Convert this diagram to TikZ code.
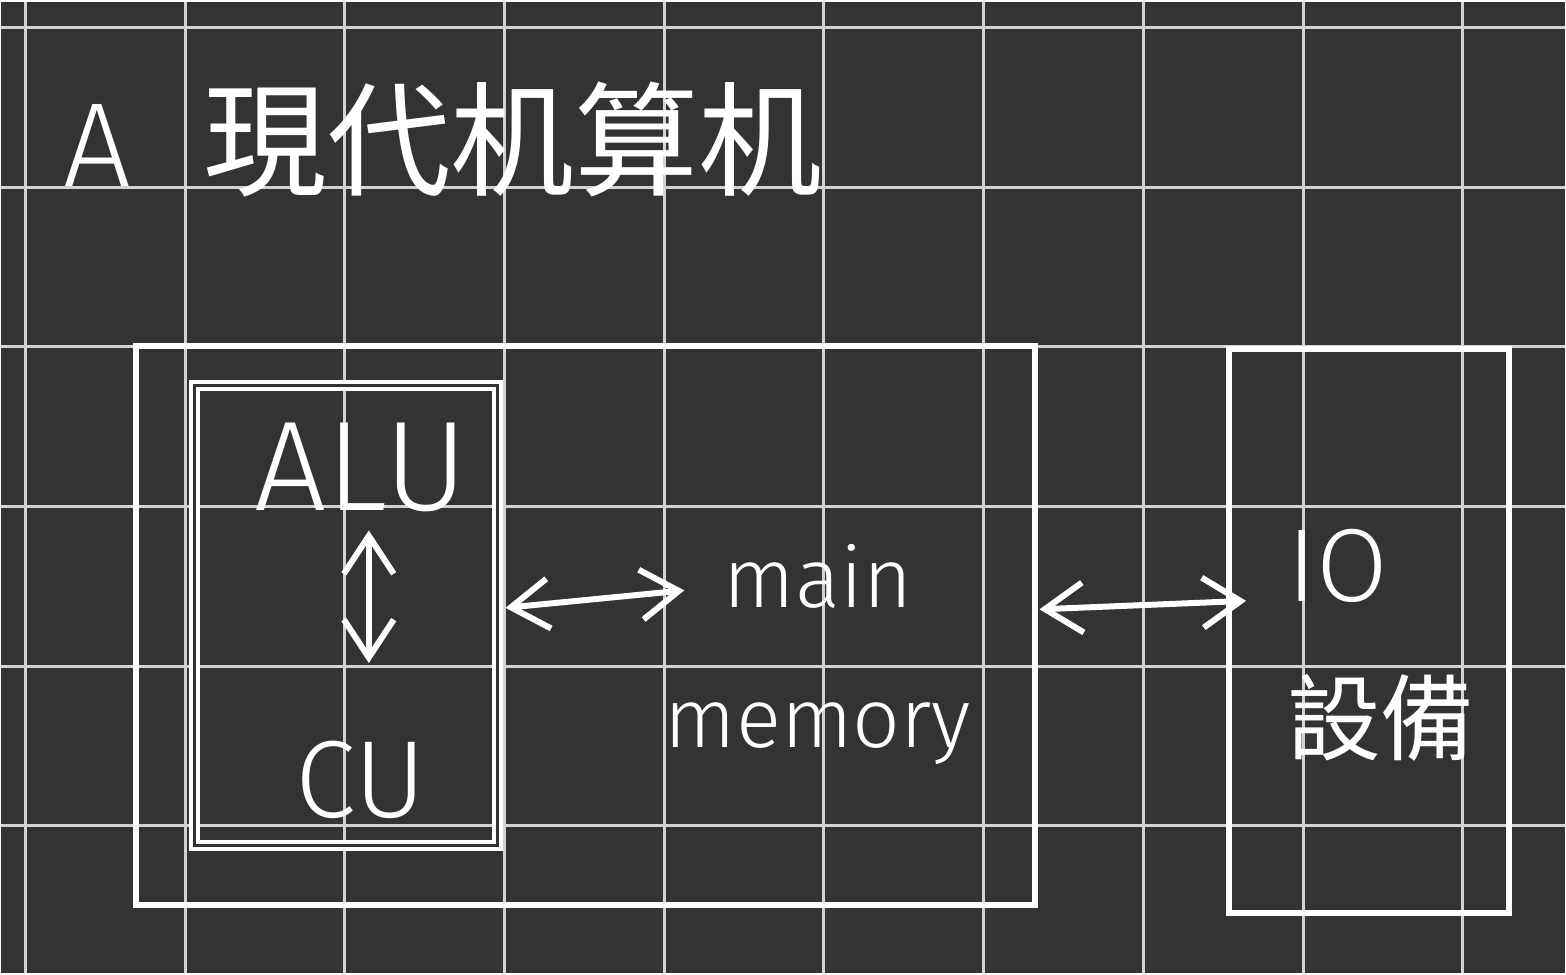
\documentclass[tikz,border=0pt]{standalone}
\usepackage{fontspec}
\setmainfont{Fira Sans}[UprightFont=* Light]
\newfontfamily\cjk{Noto Sans CJK TC}
\usetikzlibrary{arrows.meta}
\definecolor{boardbg}{HTML}{333333}
\definecolor{gridline}{HTML}{D2D2D2}

\begin{document}
\begin{tikzpicture}[x=0.5pt, y=-0.5pt,
  chalk/.style={draw=white, line width=3pt, inner sep=0pt},
  chalktext/.style={text=white, inner sep=0pt},
  link/.style={white, line width=3pt, line cap=round,
    {Straight Barb[length=19pt, width=25pt]}-{Straight Barb[length=19pt, width=25pt]}}]
  % Board and grid
  \fill[boardbg] (0,0) rectangle (1566,973);
  \foreach \gx in {24,184,...,1464}
    \draw[gridline, line width=1.5pt] (\gx,0) -- (\gx,973);
  \foreach \gy in {26,186,...,826}
    \draw[gridline, line width=1.5pt] (0,\gy) -- (1566,\gy);

  % Title
  \node[chalktext, anchor=base west, font=\fontsize{60pt}{72pt}\selectfont] (title) at (62,185)
    {A\hspace{36pt}{\cjk\fontsize{62pt}{72pt}\selectfont 現代机算机}};

  % Computer with CPU inside
  \node[chalk, minimum width=450pt, minimum height=280pt] (computer) at (585,625) {};
  \node[chalk, double=boardbg, line width=2pt, double distance=1.5pt,
        minimum width=152pt, minimum height=230.5pt] (cpu) at (345,615.5) {};
  \node[chalktext, font=\fontsize{64pt}{64pt}\selectfont] (alu) at (360,467) {ALU};
  \node[chalktext, font=\fontsize{55pt}{55pt}\selectfont] (cu) at (360,780) {CU};
  \node[chalktext, align=center, font=\fontsize{42pt}{70pt}\selectfont] (memory) at (818,654) {main\\memory};

  % IO device
  \node[chalk, minimum width=140pt, minimum height=282.5pt] (io) at (1370,630.5) {};
  \node[chalktext, align=left, font=\fontsize{47pt}{76pt}\selectfont] (iolabel) at (1382,645)
    {{\fontsize{52pt}{76pt}\selectfont IO}\\{\cjk 設備}};

  % Connections
  \draw[link, shorten <=9pt, shorten >=39pt] ([xshift=4pt]alu.south) -- ([xshift=4pt]cu.north);
  \draw[link] ([xshift=3pt, yshift=4pt]cpu.east) -- ([xshift=10pt, yshift=32pt]memory.west);
  \draw[link] ([xshift=1pt, yshift=8pt]computer.east) -- ([xshift=10pt, yshift=15pt]io.west);
\end{tikzpicture}
\end{document}
